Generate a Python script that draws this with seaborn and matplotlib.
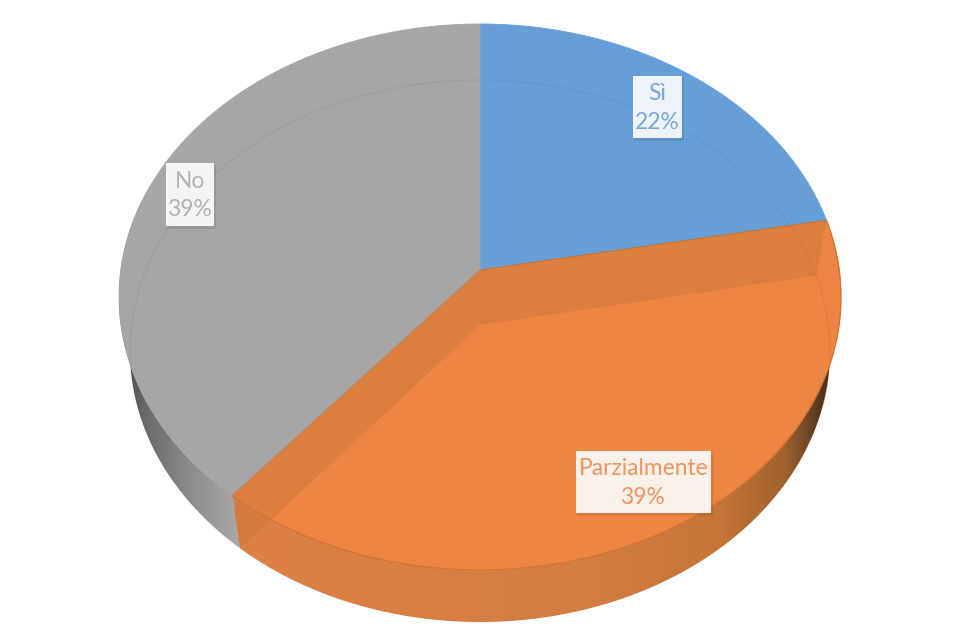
import numpy as np
import matplotlib
matplotlib.use("Agg")
import matplotlib.pyplot as plt
from matplotlib.colors import LinearSegmentedColormap
from matplotlib.patches import Polygon, Rectangle
import seaborn as sns

categories = ["Sì", "Parzialmente", "No"]
values = [22, 39, 39]
percent_labels = ["22%", "39%", "39%"]

sns.set_theme(style="white")
plt.rcParams["font.family"] = ["Lato", "DejaVu Sans"]
palette = sns.color_palette(["#669FD8", "#EC8642", "#A6A6A6"])
text_colors = ["#7AA5D4", "#EF9460", "#B2B2B2"]
label_boxes = [(633, 76, 49, 62), (576, 451, 135, 62), (166, 163, 48, 63)]

fig = plt.figure(figsize=(9.56, 6.27), dpi=100)
ax = fig.add_axes([0, 0, 1, 1])
ax.set_xlim(0, 956)
ax.set_ylim(627, 0)
ax.axis("off")

TOP = dict(cx=480, cy=297, rx=361, ry=273, ay=270)
BOT = dict(cx=480, cy=351, rx=350, ry=271, ay=325)


def rim(th, e):
    """Perspective projection of a circle point at true angle th (clockwise from top)."""
    th = np.asarray(th)
    k = (e["cy"] - e["ay"]) / e["ry"]
    den = 1 + k * np.cos(th)
    ct = (np.cos(th) + k) / den
    st = np.sin(th) * np.sqrt(1 - k * k) / den
    return np.column_stack([e["cx"] + e["rx"] * st, e["cy"] - e["ry"] * ct])


def apex(e):
    return np.array([[e["cx"], e["ay"]]])


cum = np.cumsum([0] + values) / sum(values) * 2 * np.pi
starts, ends = cum[:-1], cum[1:]


def arc(a, b, e, n=300):
    return rim(np.linspace(a, b, n), e)


def gradient_side(poly_xy, stops, x0, x1):
    cmap = LinearSegmentedColormap.from_list("side", [((x - x0) / (x1 - x0), c) for x, c in stops])
    im = ax.imshow(np.linspace(0, 1, 512)[None, :], cmap=cmap, extent=(x0, x1, 627, 0),
                   aspect="auto", zorder=1)
    clip = Polygon(poly_xy, closed=True, transform=ax.transData, fc="none", ec="none")
    ax.add_patch(clip)
    im.set_clip_path(clip)


# Outer side walls (gray first, extended a little under the orange wall)
gray_side = np.vstack([arc(starts[2] - 0.03, starts[2] + 1.2, BOT), arc(starts[2] + 1.2, starts[2] - 0.03, TOP)])
gradient_side(gray_side,
              [(118, "#3E3E3E"), (145, "#6A6A6A"), (190, "#8C8C8C"), (240, "#AAAAAA")], 118, 240)
orange_side = np.vstack([arc(starts[1], ends[1], BOT), arc(ends[1], starts[1], TOP)])
gradient_side(orange_side,
              [(235, "#DE8144"), (600, "#D27D40"), (720, "#C67537"), (785, "#A2622E"),
               (818, "#5E3D22"), (842, "#221E1A")], 235, 842)
ax.images[-1].set_zorder(1.1)

# Top faces
for i in range(len(values)):
    face = np.vstack([apex(TOP), arc(starts[i], ends[i], TOP)])
    ax.add_patch(Polygon(face, closed=True, fc=palette[i], ec=palette[i], lw=0.6, zorder=2))

# Ghost floor rim seen through blue and gray faces
for i, (a, b) in {0: (starts[0], ends[0]), 2: (starts[2] + 0.3, ends[2])}.items():
    g = arc(a, b, BOT)
    ax.plot(g[:, 0], g[:, 1], color="#000000", alpha=0.045, lw=1, zorder=3)

# Inner walls of the orange slice seen through the translucent face
for th in (starts[1], ends[1]):
    wall = np.vstack([apex(TOP), rim([th], TOP), rim([th], BOT), apex(BOT)])
    ax.add_patch(Polygon(wall, closed=True, fc="#C8733A", ec="none", alpha=0.42, zorder=3))

# Edge lines on the orange slice
edge = arc(starts[1], ends[1], TOP)
ax.plot(edge[:, 0], edge[:, 1], color="#C96E2E", lw=0.9, alpha=0.8, zorder=4)
floor_right = arc(starts[1], starts[1] + 0.5, BOT)
ax.plot(floor_right[:, 0], floor_right[:, 1], color="#C96E2E", lw=0.8, alpha=0.3, zorder=4)
divider = np.vstack([apex(TOP), rim([starts[1]], TOP)])
ax.plot(divider[:, 0], divider[:, 1], color="#B9773F", lw=0.9, zorder=4)
divider2 = np.vstack([apex(TOP), rim([ends[1]], TOP)])
ax.plot(divider2[:, 0], divider2[:, 1], color="#B98A62", lw=0.7, zorder=4)

# Data labels
for name, pct, col, (x, y, w, h) in zip(categories, percent_labels, text_colors, label_boxes):
    ax.add_patch(Rectangle((x + 1, y + 2), w + 1, h + 1, fc="black", ec="none", alpha=0.08, zorder=5))
    ax.add_patch(Rectangle((x, y), w, h, fc="white", ec="none", alpha=0.9, zorder=6))
    ax.text(x + w / 2, y + h / 2 + 1, f"{name}\n{pct}", ha="center", va="center", color=col,
            fontsize=16.4, linespacing=1.42, zorder=7)

fig.savefig("out.png", dpi=100, facecolor="white")
